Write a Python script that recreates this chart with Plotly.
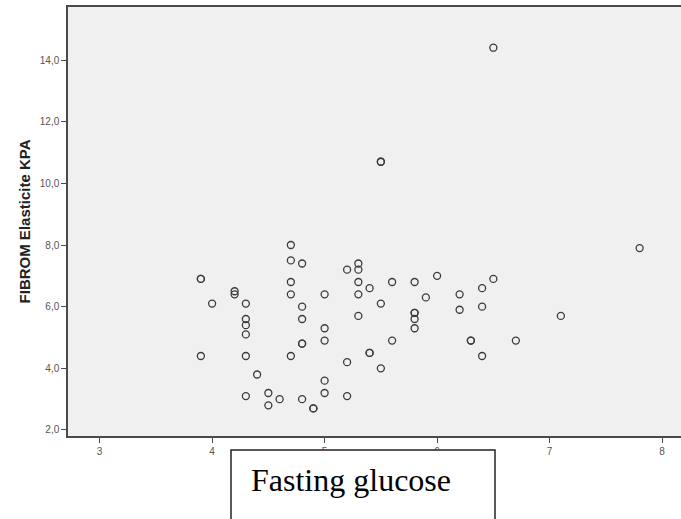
import plotly.graph_objects as go

# Fasting glucose (mmol/L) against liver stiffness (kPa); repeated pairs are listed twice
glucose = [
    3.9, 3.9, 3.9, 4.0, 4.2, 4.2, 4.3, 4.3, 4.3, 4.3, 4.3, 4.3,
    4.4, 4.5, 4.5, 4.6, 4.7, 4.7, 4.7, 4.7, 4.7, 4.8, 4.8, 4.8,
    4.8, 4.8, 4.8, 4.9, 4.9, 5.0, 5.0, 5.0, 5.0, 5.0, 5.2, 5.2,
    5.2, 5.3, 5.3, 5.3, 5.3, 5.3, 5.4, 5.4, 5.4, 5.5, 5.5, 5.5,
    5.5, 5.6, 5.6, 5.8, 5.8, 5.8, 5.8, 5.8, 5.9, 6.0, 6.2, 6.2,
    6.3, 6.3, 6.4, 6.4, 6.4, 6.5, 6.5, 6.7, 7.1, 7.8,
]
stiffness = [
    6.9, 6.9, 4.4, 6.1, 6.5, 6.4, 6.1, 5.6, 5.4, 5.1, 4.4, 3.1,
    3.8, 3.2, 2.8, 3.0, 8.0, 7.5, 6.8, 6.4, 4.4, 7.4, 6.0, 5.6,
    4.8, 4.8, 3.0, 2.7, 2.7, 6.4, 5.3, 4.9, 3.6, 3.2, 7.2, 4.2,
    3.1, 7.4, 7.2, 6.8, 6.4, 5.7, 6.6, 4.5, 4.5, 6.1, 4.0, 10.7,
    10.7, 6.8, 4.9, 6.8, 5.8, 5.8, 5.6, 5.3, 6.3, 7.0, 6.4, 5.9,
    4.9, 4.9, 6.6, 6.0, 4.4, 6.9, 14.4, 4.9, 5.7, 7.9,
]

x_ticks = [3, 4, 5, 6, 7, 8]
y_ticks = [2, 4, 6, 8, 10, 12, 14]
y_title = "FIBROM Elasticite KPA"
x_title = "Fasting glucose"

W, H = 681, 519
M_L, M_R, M_T, M_B = 68, 0, 7, 83
plot_w = W - M_L - M_R
plot_h = H - M_T - M_B


def px_x(p):
    return (p - M_L) / plot_w


def px_y(p):
    return (H - M_B - p) / plot_h


fig = go.Figure(
    go.Scatter(
        x=glucose,
        y=stiffness,
        mode="markers",
        marker=dict(
            symbol="circle-open",
            size=7,
            color="#3a3a3a",
            line=dict(width=1.3, color="#3a3a3a"),
        ),
        hoverinfo="x+y",
    )
)

axis_common = dict(
    showgrid=False,
    zeroline=False,
    showline=True,
    linecolor="#4a4a4a",
    linewidth=1.5,
    ticks="outside",
    ticklen=5,
    tickwidth=1,
    tickcolor="#4a4a4a",
    tickfont=dict(family="Liberation Sans, Arial", size=10, color="#555555"),
)

# x axis mirrored to draw the top frame line; no frame line on the right
fig.update_xaxes(
    range=[2.719, 8.168],
    tickvals=x_ticks,
    ticktext=[str(v) for v in x_ticks],
    mirror=True,
    **axis_common,
)
fig.update_yaxes(
    range=[1.805, 15.72],
    tickvals=y_ticks,
    tickformat=".1f",
    mirror=False,
    title=dict(
        text=f"<b>{y_title}</b>",
        font=dict(family="Liberation Sans, Arial", size=15, color="#222222"),
        standoff=6,
    ),
    **axis_common,
)

# Boxed axis caption below the plot
fig.add_shape(
    type="rect",
    xref="paper", yref="paper",
    x0=px_x(231), x1=px_x(495),
    y0=px_y(450), y1=px_y(540),
    fillcolor="white",
    line=dict(color="#222222", width=1.5),
    layer="above",
)
fig.add_annotation(
    text=x_title,
    xref="paper", yref="paper",
    x=px_x(249), y=px_y(480),
    xanchor="left", yanchor="middle",
    showarrow=False,
    font=dict(family="Liberation Serif, Times New Roman", size=32, color="black"),
)

fig.update_layout(
    width=W,
    height=H,
    margin=dict(l=M_L, r=M_R, t=M_T, b=M_B, pad=0),
    paper_bgcolor="white",
    plot_bgcolor="#f0f0f0",
    separators=",.",
    showlegend=False,
)

fig.write_html("out.html")
